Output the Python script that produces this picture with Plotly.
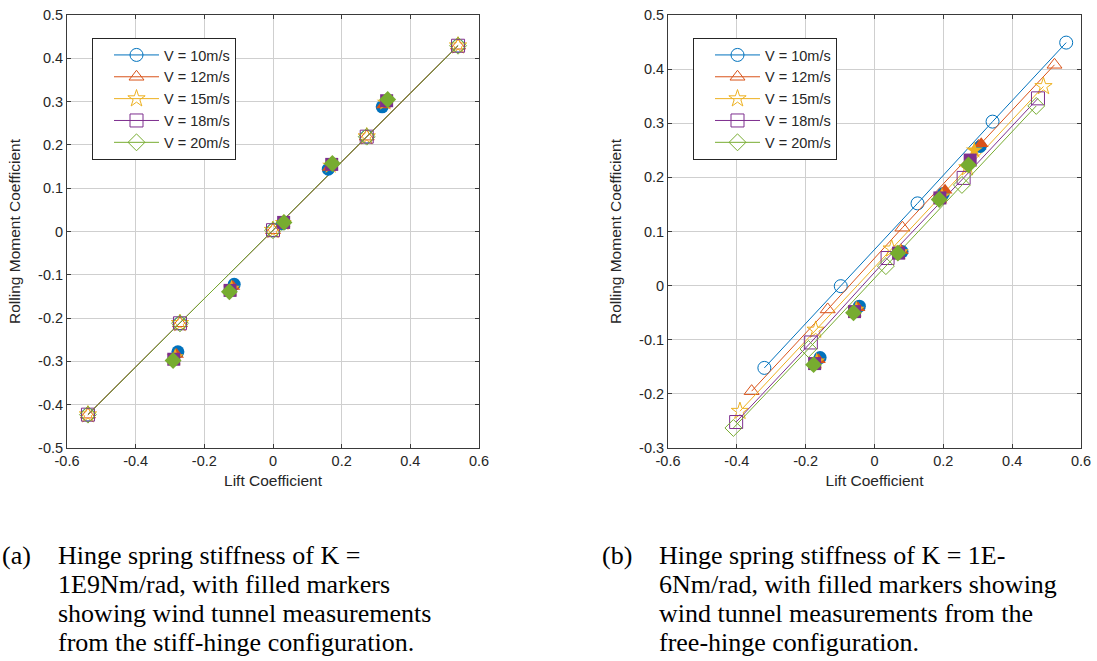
import plotly.graph_objects as go

# ---------------- data ----------------
series_names = ["V = 10m/s", "V = 12m/s", "V = 15m/s", "V = 18m/s", "V = 20m/s"]
colors = ["#0072BD", "#D95319", "#EDB120", "#7E2F8E", "#77AC30"]
open_symbols = ["circle-open", "triangle-up-open", "star-open", "square-open", "diamond-open"]
filled_symbols = ["circle", "triangle-up", "star", "square", "diamond"]

# (a) stiff hinge - model
a_model_x = [
    [-0.539, -0.271, 0.000, 0.273, 0.539],
    [-0.539, -0.271, 0.000, 0.273, 0.539],
    [-0.539, -0.271, 0.000, 0.273, 0.539],
    [-0.539, -0.271, 0.000, 0.273, 0.539],
    [-0.539, -0.271, 0.000, 0.273, 0.539],
]
a_model_y = [
    [-0.423, -0.212, 0.003, 0.219, 0.429],
    [-0.423, -0.212, 0.003, 0.219, 0.429],
    [-0.423, -0.212, 0.003, 0.219, 0.429],
    [-0.423, -0.212, 0.003, 0.219, 0.429],
    [-0.423, -0.212, 0.003, 0.219, 0.429],
]
# (a) wind tunnel
a_wt_x = [
    [-0.277, -0.113, 0.028, 0.161, 0.318],
    [-0.281, -0.117, 0.029, 0.164, 0.322],
    [-0.285, -0.121, 0.030, 0.168, 0.327],
    [-0.289, -0.125, 0.031, 0.171, 0.331],
    [-0.291, -0.127, 0.032, 0.173, 0.334],
]
a_wt_y = [
    [-0.278, -0.122, 0.018, 0.144, 0.288],
    [-0.284, -0.127, 0.019, 0.148, 0.292],
    [-0.290, -0.132, 0.020, 0.152, 0.298],
    [-0.295, -0.136, 0.021, 0.155, 0.302],
    [-0.298, -0.139, 0.021, 0.157, 0.305],
]

# (b) free hinge - model
b_model_x = [
    [-0.320, -0.098, 0.125, 0.343, 0.557],
    [-0.357, -0.136, 0.081, 0.302, 0.523],
    [-0.391, -0.171, 0.050, 0.270, 0.491],
    [-0.402, -0.185, 0.038, 0.259, 0.475],
    [-0.410, -0.192, 0.033, 0.254, 0.470],
]
b_model_y = [
    [-0.152, -0.001, 0.152, 0.303, 0.449],
    [-0.195, -0.044, 0.107, 0.258, 0.408],
    [-0.232, -0.082, 0.068, 0.218, 0.368],
    [-0.252, -0.105, 0.051, 0.199, 0.346],
    [-0.263, -0.117, 0.036, 0.186, 0.332],
]
# (b) wind tunnel
b_wt_x = [
    [-0.158, -0.044, 0.080, 0.200, 0.307],
    [-0.163, -0.048, 0.078, 0.205, 0.310],
    [-0.168, -0.053, 0.075, 0.196, 0.290],
    [-0.174, -0.058, 0.070, 0.190, 0.278],
    [-0.177, -0.061, 0.068, 0.188, 0.273],
]
b_wt_y = [
    [-0.133, -0.038, 0.063, 0.170, 0.257],
    [-0.137, -0.041, 0.065, 0.176, 0.262],
    [-0.140, -0.044, 0.062, 0.165, 0.250],
    [-0.144, -0.048, 0.060, 0.162, 0.232],
    [-0.146, -0.050, 0.060, 0.159, 0.223],
]

x_ticks = [-0.6, -0.4, -0.2, 0, 0.2, 0.4, 0.6]
x_ticktext = ["-0.6", "-0.4", "-0.2", "0", "0.2", "0.4", "0.6"]
a_y_ticks = [-0.5, -0.4, -0.3, -0.2, -0.1, 0, 0.1, 0.2, 0.3, 0.4, 0.5]
a_y_ticktext = ["-0.5", "-0.4", "-0.3", "-0.2", "-0.1", "0", "0.1", "0.2", "0.3", "0.4", "0.5"]
b_y_ticks = [-0.3, -0.2, -0.1, 0, 0.1, 0.2, 0.3, 0.4, 0.5]
b_y_ticktext = ["-0.3", "-0.2", "-0.1", "0", "0.1", "0.2", "0.3", "0.4", "0.5"]

caption_a_label = "(a)"
caption_a_lines = ["Hinge spring stiffness of K =",
                   "1E9Nm/rad, with filled markers",
                   "showing wind tunnel measurements",
                   "from the stiff-hinge configuration."]
caption_b_label = "(b)"
caption_b_lines = ["Hinge spring stiffness of K = 1E-",
                   "6Nm/rad, with filled markers showing",
                   "wind tunnel measurements from the",
                   "free-hinge configuration."]

# ---------------- figure ----------------
W, H = 1097, 661
fig = go.Figure()

def add_panel(mx, my, wx, wy, xa, ya, legend):
    for i in range(5):
        fig.add_trace(go.Scatter(
            x=mx[i], y=my[i], mode="lines+markers", name=series_names[i],
            line=dict(color=colors[i], width=1),
            marker=dict(symbol=open_symbols[i], size=13, color=colors[i], line=dict(width=1, color=colors[i])),
            xaxis=xa, yaxis=ya, legend=legend, showlegend=True))
    for i in range(5):
        fig.add_trace(go.Scatter(
            x=wx[i], y=wy[i], mode="markers", name=series_names[i],
            marker=dict(symbol=filled_symbols[i], size=13, color=colors[i], line=dict(width=0)),
            xaxis=xa, yaxis=ya, showlegend=False))

add_panel(a_model_x, a_model_y, a_wt_x, a_wt_y, "x", "y", "legend")
add_panel(b_model_x, b_model_y, b_wt_x, b_wt_y, "x2", "y2", "legend2")

axis_common = dict(
    showgrid=True, gridcolor="#cfcfcf", gridwidth=1,
    showline=True, linecolor="#3a3a3a", linewidth=1, mirror="ticks",
    ticks="inside", ticklen=4, tickcolor="#3a3a3a",
    zeroline=False, automargin=False, ticklabeloverflow="allow",
    tickfont=dict(family="Liberation Sans, Arial", size=14.5, color="#262626"),
)
title_font = dict(family="Liberation Sans, Arial", size=15.5, color="#262626")

def ydom(top, bottom):
    return [1 - bottom / H, 1 - top / H]

legend_common = dict(xanchor="left", yanchor="top", bgcolor="white",
                     bordercolor="#262626", borderwidth=1, itemwidth=45, indentation=16,
                     font=dict(family="Liberation Sans, Arial", size=14.5, color="#262626"))

fig.update_layout(
    width=W, height=H,
    margin=dict(l=0, r=0, t=0, b=0),
    paper_bgcolor="white", plot_bgcolor="white",
    font=dict(family="Liberation Sans, Arial", color="#262626"),
    xaxis=dict(domain=[67 / W, 479 / W], range=[-0.6, 0.6], tickvals=x_ticks, ticktext=x_ticktext,
               title=dict(text="Lift Coefficient", font=title_font, standoff=6),
               anchor="y", **axis_common),
    yaxis=dict(domain=ydom(15, 448), range=[-0.5, 0.5], tickvals=a_y_ticks, ticktext=a_y_ticktext,
               title=dict(text="Rolling Moment Coefficient", font=title_font, standoff=13),
               anchor="x", **axis_common),
    xaxis2=dict(domain=[668 / W, 1081 / W], range=[-0.6, 0.6], tickvals=x_ticks, ticktext=x_ticktext,
                title=dict(text="Lift Coefficient", font=title_font, standoff=6),
                anchor="y2", **axis_common),
    yaxis2=dict(domain=ydom(15, 448), range=[-0.3, 0.5], tickvals=b_y_ticks, ticktext=b_y_ticktext,
                title=dict(text="Rolling Moment Coefficient", font=title_font, standoff=13),
                anchor="x2", **axis_common),
    legend=dict(x=92 / W, y=1 - 38 / H, **legend_common),
    legend2=dict(x=693 / W, y=1 - 38 / H, **legend_common),
)

cap_font = dict(family="Liberation Serif, Times New Roman", size=26, color="black")
line_y = [555, 584, 613, 642]

def add_caption(label, lines, x_label, x_text):
    fig.add_annotation(text=label, x=x_label / W, y=1 - line_y[0] / H, xref="paper", yref="paper",
                       xanchor="left", yanchor="middle", showarrow=False, font=cap_font)
    for ln, yy in zip(lines, line_y):
        fig.add_annotation(text=ln, x=x_text / W, y=1 - yy / H, xref="paper", yref="paper",
                           xanchor="left", yanchor="middle", showarrow=False, align="left", font=cap_font)

add_caption(caption_a_label, caption_a_lines, 0, 56)
add_caption(caption_b_label, caption_b_lines, 600, 657)

fig.write_html("out.html",
               config={"displayModeBar": False},
               post_script="document.body.style.margin='0px';document.body.style.overflow='hidden';")
